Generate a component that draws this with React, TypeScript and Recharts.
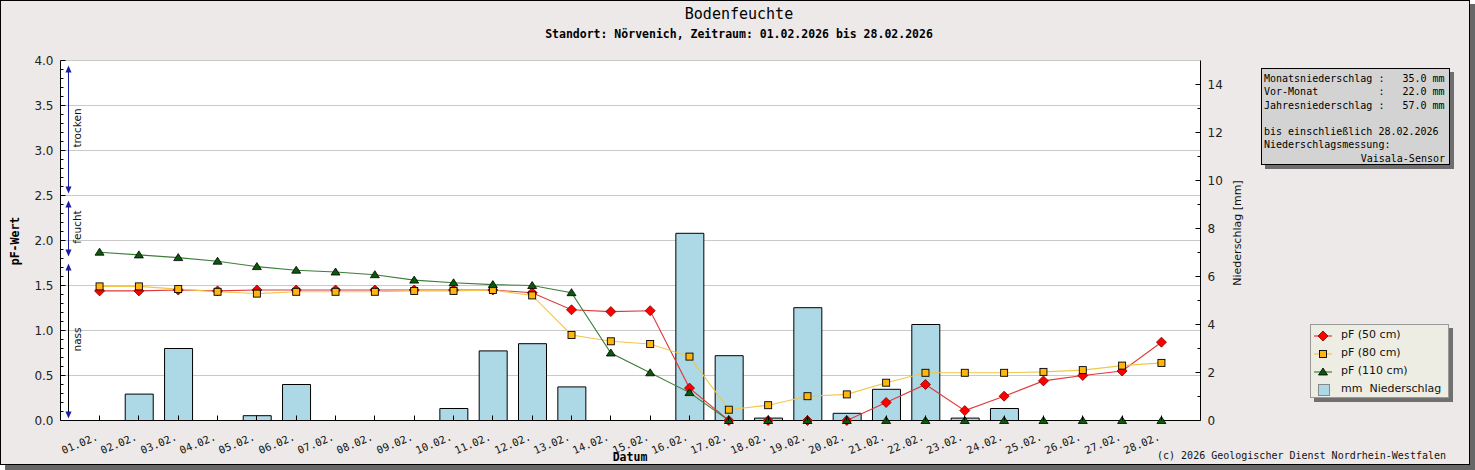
import React from "react";
import { ComposedChart, Bar, Line, XAxis, YAxis, CartesianGrid, ReferenceArea } from "recharts";

// Februar 2026, Standort Nörvenich
const days = [
  "01.02.", "02.02.", "03.02.", "04.02.", "05.02.", "06.02.", "07.02.", "08.02.", "09.02.", "10.02.",
  "11.02.", "12.02.", "13.02.", "14.02.", "15.02.", "16.02.", "17.02.", "18.02.", "19.02.", "20.02.",
  "21.02.", "22.02.", "23.02.", "24.02.", "25.02.", "26.02.", "27.02.", "28.02.",
];
const pf50 = [1.44, 1.44, 1.45, 1.44, 1.45, 1.45, 1.45, 1.45, 1.45, 1.45, 1.45, 1.42, 1.23, 1.21, 1.22, 0.36, 0, 0, 0, 0, 0.2, 0.4, 0.11, 0.27, 0.44, 0.5, 0.55, 0.87];
const pf80 = [1.49, 1.49, 1.46, 1.43, 1.41, 1.43, 1.43, 1.43, 1.44, 1.44, 1.45, 1.39, 0.95, 0.88, 0.85, 0.71, 0.12, 0.17, 0.27, 0.29, 0.42, 0.53, 0.53, 0.53, 0.54, 0.56, 0.61, 0.64];
const pf110 = [1.87, 1.84, 1.81, 1.77, 1.71, 1.67, 1.65, 1.62, 1.56, 1.53, 1.51, 1.5, 1.42, 0.75, 0.53, 0.31, 0, 0, 0, 0, 0, 0, 0, 0, 0, 0, 0, 0];
const rain = [0, 1.1, 3.0, 0, 0.2, 1.5, 0, 0, 0, 0.5, 2.9, 3.2, 1.4, 0, 0, 7.8, 2.7, 0.1, 4.7, 0.3, 1.3, 4.0, 0.1, 0.5, 0, 0, 0, 0];

const pfMajorTicks = [0, 0.5, 1, 1.5, 2, 2.5, 3, 3.5, 4];
const rainMajorTicks = [0, 2, 4, 6, 8, 10, 12, 14];

const zones = [
  { name: "trocken", from: 2.5, to: 4.0, color: "#1c1ca0" },
  { name: "feucht", from: 1.8, to: 2.5, color: "#1c1ca0" },
  { name: "nass", from: 0, to: 1.8, color: "#000000" },
];

const infoLines = [
  "Monatsniederschlag :   35.0 mm",
  "Vor-Monat          :   22.0 mm",
  "Jahresniederschlag :   57.0 mm",
  "",
  "bis einschließlich 28.02.2026",
  "Niederschlagsmessung:",
];

const data = days.map((d, i) => ({ d, pf50: pf50[i], pf80: pf80[i], pf110: pf110[i], rain: rain[i] }));

// minor ticks every 0.1 pF, every 1 mm
const pfTicks = Array.from({ length: 41 }, (_, i) => i / 10);
const rainTicks = Array.from({ length: 15 }, (_, i) => i);

const mono = "'DejaVu Sans Mono', monospace";
const sans = "'DejaVu Sans', sans-serif";
const arrowBlue = "#1c1ca0";

const RED = "#e0383a";
const ORANGE = "#f2c649";
const GREEN = "#3d7d3a";
const X_PAD = 19.4;

// snap a coordinate to the middle of a pixel so 1px ticks stay crisp
const px = (v: any) => Math.round(Number(v) - 0.5) + 0.5;

function Diamond({ cx, cy }: any) {
  if (cx == null || cy == null) return null;
  return <path d={`M${cx},${cy - 5}L${cx + 5},${cy}L${cx},${cy + 5}L${cx - 5},${cy}Z`} fill="#ff0000" stroke="#7a0000" strokeWidth={0.8} />;
}
function Square({ cx, cy }: any) {
  if (cx == null || cy == null) return null;
  return <rect x={cx - 3.5} y={cy - 3.5} width={7} height={7} fill="#ffb611" stroke="#000" strokeWidth={0.9} />;
}
function Triangle({ cx, cy }: any) {
  if (cx == null || cy == null) return null;
  return <path d={`M${cx},${cy - 4}L${cx + 4.5},${cy + 3}L${cx - 4.5},${cy + 3}Z`} fill="#0b5a0b" stroke="#000" strokeWidth={0.8} />;
}

function PfTick({ x, y, payload }: any) {
  const v = Number(payload.value);
  const major = Math.abs(v * 2 - Math.round(v * 2)) < 1e-6;
  const ax = px(x);
  const ty = px(y);
  return (
    <g>
      <line x1={ax} x2={ax + (major ? 5 : 3)} y1={ty} y2={ty} stroke="#000" strokeWidth={1} />
      {major && (
        <text x={ax - 7} y={ty + 4} textAnchor="end" fontFamily={sans} fontSize={12} fill="#222">
          {v.toFixed(1)}
        </text>
      )}
    </g>
  );
}

function RainTick({ x, y, payload }: any) {
  const v = Number(payload.value);
  const major = rainMajorTicks.includes(v);
  const ax = px(x);
  const ty = px(y);
  return (
    <g>
      <line x1={ax} x2={ax - (major ? 5 : 3)} y1={ty} y2={ty} stroke="#000" strokeWidth={1} />
      {major && (
        <text x={ax + 7} y={ty + 4} textAnchor="start" fontFamily={sans} fontSize={12} fill="#222">
          {v}
        </text>
      )}
    </g>
  );
}

function DayTick({ x, y, payload }: any) {
  const tx = px(x);
  const ay = px(y);
  return (
    <g>
      <line x1={tx} x2={tx} y1={ay} y2={ay - 5} stroke="#000" strokeWidth={1} />
      <text
        transform={`translate(${tx - 1},${ay + 19}) rotate(-23)`}
        textAnchor="end"
        fontFamily={mono}
        fontSize={10.5}
        fill="#111"
      >
        {payload.value}
      </text>
    </g>
  );
}

function zoneShape(zone: { name: string; color: string }) {
  return (p: any) => {
    // the area starts at the padded edge of the category axis; the arrow sits 8px right of the pF axis
    const ax = p.x - X_PAD + 8;
    const top = p.y + 5;
    const bottom = p.y + p.height - 2;
    const mid = p.y + p.height / 2;
    return (
      <g>
        <line x1={ax} x2={ax} y1={top + 4} y2={bottom - 4} stroke={zone.color} strokeWidth={1} />
        <path d={`M${ax},${top}L${ax + 3},${top + 7}L${ax - 3},${top + 7}Z`} fill={arrowBlue} />
        <path d={`M${ax},${bottom}L${ax + 3},${bottom - 7}L${ax - 3},${bottom - 7}Z`} fill={arrowBlue} />
        <text
          transform={`translate(${ax + 12},${mid}) rotate(-90)`}
          textAnchor="middle"
          fontFamily={sans}
          fontSize={10.5}
          fill="#111"
        >
          {zone.name}
        </text>
      </g>
    );
  };
}

function LegendRow({ kind, label, top }: { kind: string; label: string; top: number }) {
  return (
    <div style={{ position: "absolute", left: 0, top, height: 18, width: 139 }}>
      <svg width={30} height={18} style={{ position: "absolute", left: 0, top: 0 }}>
        {kind === "bar" ? (
          <rect x={7.5} y={3.5} width={11} height={11} fill="#add8e6" stroke="#888" />
        ) : (
          <line x1={3} x2={21} y1={9} y2={9} stroke={kind === "d" ? RED : kind === "s" ? ORANGE : GREEN} strokeWidth={1.2} />
        )}
        {kind === "d" && <Diamond cx={12} cy={9} />}
        {kind === "s" && <Square cx={12} cy={9} />}
        {kind === "t" && <Triangle cx={12} cy={9} />}
      </svg>
      <span style={{ position: "absolute", left: 30, top: 1, fontFamily: sans, fontSize: 11, color: "#111", whiteSpace: "pre" }}>
        {label}
      </span>
    </div>
  );
}

export default function App() {
  return (
    <div style={{ position: "fixed", left: 0, top: 0, width: 1475, height: 470, background: "#fff", overflow: "hidden" }}>
      <div style={{ position: "absolute", left: 5, top: 4, width: 1470, height: 466, background: "#676767" }} />
      <div
        style={{
          position: "absolute", left: 0, top: 0, width: 1470, height: 465,
          boxSizing: "border-box", border: "1px solid #000", background: "#ece9e8",
        }}
      />
      {/* plot background, kept behind the svg so the inward ticks stay visible */}
      <div style={{ position: "absolute", left: 60, top: 60, width: 1141, height: 361, background: "#fff" }} />
      <div style={{ position: "absolute", left: 0, top: 0 }}>
        <ComposedChart width={1470} height={465} data={data} margin={{ top: 60.5, right: 219.5, bottom: 4.5, left: 0.5 }}>
          <CartesianGrid yAxisId="pf" vertical={false} horizontalValues={pfMajorTicks} stroke="#c9c9c9" />
          <XAxis
            dataKey="d"
            height={40}
            interval={0}
            tickSize={0}
            tickMargin={0}
            padding={{ left: X_PAD, right: X_PAD }}
            axisLine={{ stroke: "#000" }}
            tickLine={false}
            tick={<DayTick />}
          />
          <YAxis
            yAxisId="pf"
            orientation="left"
            width={60}
            domain={[0, 4]}
            ticks={pfTicks}
            interval={0}
            tickSize={0}
            tickMargin={0}
            allowDecimals
            axisLine={{ stroke: "#000" }}
            tickLine={false}
            tick={<PfTick />}
          />
          <YAxis
            yAxisId="mm"
            orientation="right"
            width={50}
            domain={[0, 15]}
            ticks={rainTicks}
            interval={0}
            tickSize={0}
            tickMargin={0}
            axisLine={{ stroke: "#000" }}
            tickLine={false}
            tick={<RainTick />}
          />
          {zones.map((z) => (
            <ReferenceArea key={z.name} yAxisId="pf" y1={z.from} y2={z.to} shape={zoneShape(z)} ifOverflow="visible" />
          ))}
          <Bar yAxisId="mm" dataKey="rain" barSize={28} fill="#add8e6" stroke="#000" strokeWidth={1} isAnimationActive={false} />
          <Line yAxisId="pf" dataKey="pf50" stroke={RED} strokeWidth={1.1} dot={<Diamond />} activeDot={false} isAnimationActive={false} />
          <Line yAxisId="pf" dataKey="pf80" stroke={ORANGE} strokeWidth={1.1} dot={<Square />} activeDot={false} isAnimationActive={false} />
          <Line yAxisId="pf" dataKey="pf110" stroke={GREEN} strokeWidth={1.1} dot={<Triangle />} activeDot={false} isAnimationActive={false} />
        </ComposedChart>
      </div>

      {/* Titel */}
      <div style={{ position: "absolute", left: 0, width: 1478, top: 5, textAlign: "center", fontFamily: mono, fontSize: 15, color: "#000" }}>
        Bodenfeuchte
      </div>
      <div style={{ position: "absolute", left: 0, width: 1478, top: 27, textAlign: "center", fontFamily: mono, fontSize: 11.5, fontWeight: "bold", color: "#000" }}>
        Standort: Nörvenich, Zeitraum: 01.02.2026 bis 28.02.2026
      </div>

      {/* Achsentitel */}
      <svg width={1470} height={465} style={{ position: "absolute", left: 0, top: 0, pointerEvents: "none" }}>
        <text transform="translate(19,241) rotate(-90)" textAnchor="middle" fontFamily={mono} fontSize={11.5} fontWeight="bold" fill="#000">
          pF-Wert
        </text>
        <text transform="translate(1241,233) rotate(-90)" textAnchor="middle" fontFamily={sans} fontSize={11} fill="#111">
          Niederschlag [mm]
        </text>
        <text x={630} y={461} textAnchor="middle" fontFamily={mono} fontSize={11.5} fontWeight="bold" fill="#000">
          Datum
        </text>
        <text x={1446} y={459} textAnchor="end" fontFamily={mono} fontSize={10} fill="#111">
          (c) 2026 Geologischer Dienst Nordrhein-Westfalen
        </text>
      </svg>

      {/* Infobox */}
      <div style={{ position: "absolute", left: 1265, top: 72, width: 189, height: 97, background: "#6e6e6e" }} />
      <div
        style={{
          position: "absolute", left: 1261, top: 68, width: 189, height: 97, boxSizing: "border-box",
          border: "1px solid #000", background: "#d3d3d3", padding: "3px 0 0 2px",
          fontFamily: mono, fontSize: 10, lineHeight: "13.3px", color: "#000", whiteSpace: "pre",
        }}
      >
        {infoLines.map((l, i) => (
          <div key={i} style={{ height: 13.3 }}>{l}</div>
        ))}
        <div style={{ height: 13.3, textAlign: "right", paddingRight: 4 }}>Vaisala-Sensor</div>
      </div>

      {/* Legende */}
      <div style={{ position: "absolute", left: 1314, top: 328, width: 139, height: 74, background: "#707070" }} />
      <div
        style={{
          position: "absolute", left: 1310, top: 324, width: 139, height: 74, boxSizing: "border-box",
          border: "1px solid #999", background: "#eeede3",
        }}
      >
        <LegendRow kind="d" label="pF (50 cm)" top={2} />
        <LegendRow kind="s" label="pF (80 cm)" top={20} />
        <LegendRow kind="t" label="pF (110 cm)" top={38} />
        <LegendRow kind="bar" label="mm  Niederschlag" top={56} />
      </div>
    </div>
  );
}
